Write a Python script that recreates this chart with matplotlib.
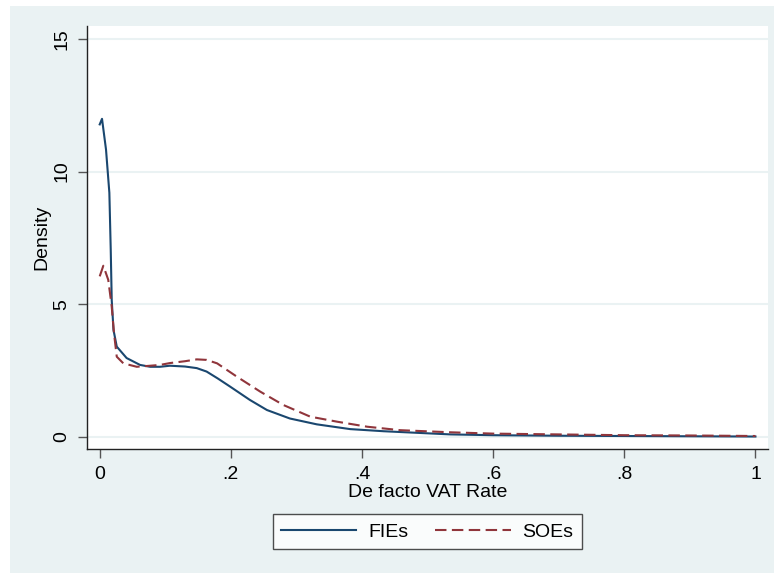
import matplotlib.pyplot as plt
from matplotlib.patches import Rectangle

plt.rcParams['font.family'] = ['Liberation Sans', 'DejaVu Sans']

# density curves
fie_x = [0.000, 0.0035, 0.0096, 0.0147, 0.0168, 0.0183, 0.021, 0.026, 0.041, 0.0615,
         0.077, 0.092, 0.107, 0.130, 0.148, 0.163, 0.180, 0.199, 0.229, 0.255,
         0.29, 0.331, 0.382, 0.433, 0.484, 0.535, 0.6, 0.7, 0.8, 0.9, 1.0]
fie_y = [11.78, 11.99, 10.83, 9.2, 7.05, 5.16, 4.03, 3.4, 2.97, 2.71,
         2.64, 2.64, 2.68, 2.65, 2.59, 2.46, 2.2, 1.89, 1.39, 1.01,
         0.69, 0.47, 0.29, 0.21, 0.15, 0.09, 0.06, 0.04, 0.03, 0.02, 0.01]

soe_x = [0.000, 0.0055, 0.013, 0.0183, 0.0218, 0.026, 0.036, 0.0565, 0.077, 0.092,
         0.107, 0.130, 0.148, 0.163, 0.179, 0.209, 0.245, 0.28, 0.321, 0.362,
         0.408, 0.458, 0.535, 0.6, 0.7, 0.8, 0.9, 1.0]
soe_y = [6.05, 6.45, 5.92, 4.91, 3.9, 3.02, 2.77, 2.64, 2.68, 2.71,
         2.78, 2.85, 2.92, 2.9, 2.77, 2.27, 1.70, 1.2, 0.76, 0.57,
         0.38, 0.25, 0.17, 0.12, 0.09, 0.06, 0.05, 0.03]

xticks = [0, 0.2, 0.4, 0.6, 0.8, 1.0]
xtick_labels = ['0', '.2', '.4', '.6', '.8', '1']
yticks = [0, 5, 10, 15]

W, H = 774, 573
bg = '#eaf2f3'
fig = plt.figure(figsize=(W / 100, H / 100), dpi=100, facecolor='white')
fig.patches.append(Rectangle((10 / W, -0.01), 1.01, 1.01 - 6 / H, transform=fig.transFigure,
                             facecolor=bg, edgecolor='none', zorder=-10))

ax = fig.add_axes([87 / W, 1 - 449 / H, (767.7 - 87) / W, (449 - 26) / H])
ax.set_facecolor('white')

for t in yticks:
    ax.axhline(t, color=bg, lw=1.5, zorder=0)

ax.plot(fie_x, fie_y, color='#1a476f', lw=1.5, label='FIEs')
ax.plot(soe_x, soe_y, color='#90353b', lw=1.5, ls=(0, (5.5, 2.6)), label='SOEs')

ax.set_xlim(-0.0194, 1.0187)
ax.set_ylim(-0.46, 15.49)
ax.set_xticks(xticks)
ax.set_xticklabels(xtick_labels)
ax.set_yticks(yticks)
ax.set_yticklabels([str(t) for t in yticks], rotation=90, va='center')
ax.tick_params(direction='out', length=6.5, width=1, color='#555555', labelsize=14, pad=5.5)

for s in ['top', 'right']:
    ax.spines[s].set_visible(False)
for s in ['left', 'bottom']:
    ax.spines[s].set_color('#222222')
    ax.spines[s].set_linewidth(1)

ax.set_xlabel('De facto VAT Rate', fontsize=14, labelpad=1)
ax.set_ylabel('Density', fontsize=14, labelpad=2)

leg = fig.legend(loc='center', bbox_to_anchor=(427.3 / W, 1 - 531.7 / H), ncol=2,
                 fontsize=14, frameon=True, fancybox=False, handlelength=3.86,
                 handletextpad=0.6, columnspacing=1.4, borderpad=0.45, borderaxespad=0)
leg.get_frame().set_edgecolor('#222222')
leg.get_frame().set_linewidth(1)

fig.savefig('out.png', dpi=100, facecolor='white')
